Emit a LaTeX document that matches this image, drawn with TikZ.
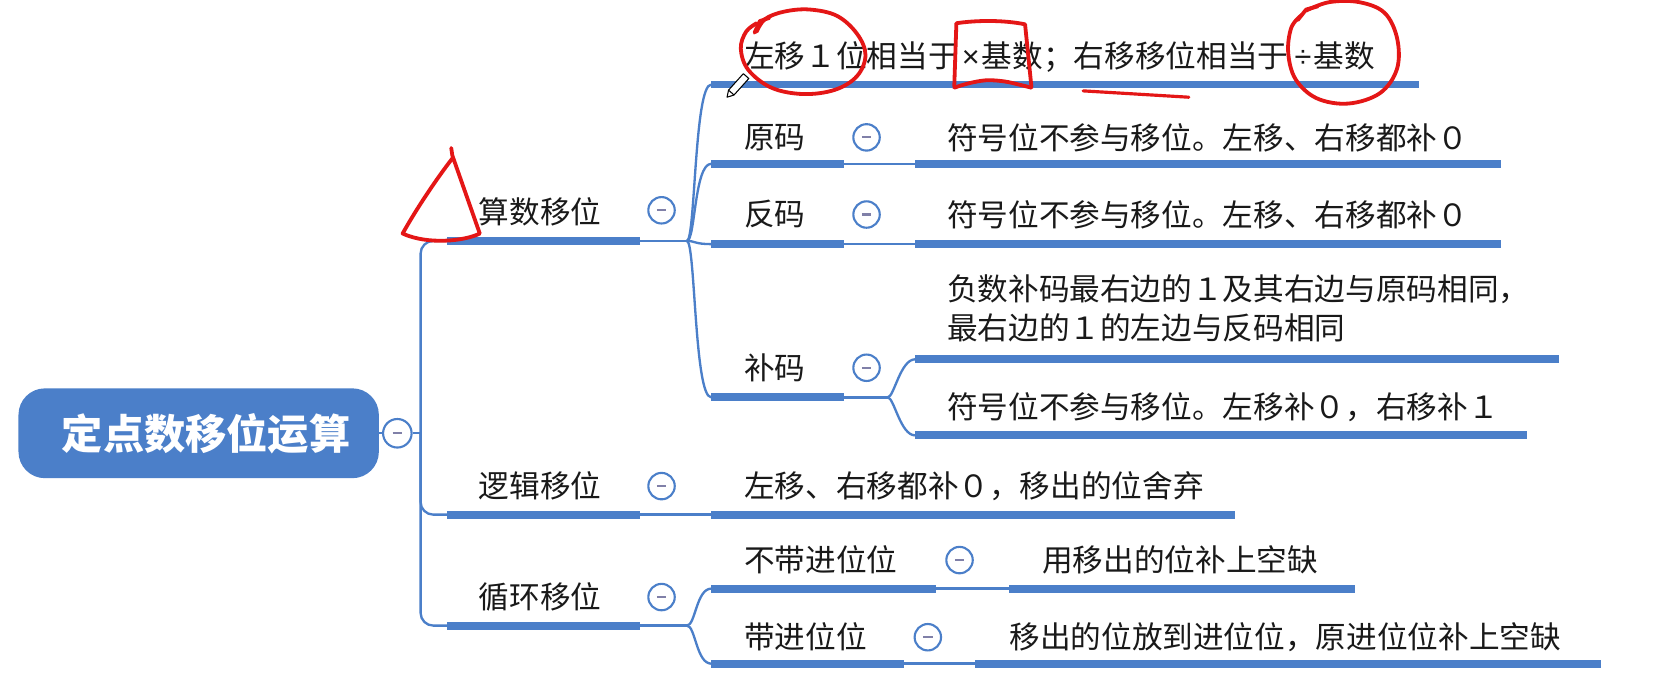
\documentclass[tikz,border=0pt]{standalone}
\usepackage{fontspec}
\newfontfamily\cjk{Noto Sans CJK SC}
\newfontfamily\lat{Liberation Sans}
\usetikzlibrary{calc}
\definecolor{xblue}{RGB}{75,127,201}
\definecolor{xred}{RGB}{228,22,22}
\definecolor{minusc}{RGB}{128,128,168}
\definecolor{txt}{RGB}{25,25,25}
\begin{document}
\begin{tikzpicture}[x=1pt,y=-1pt,
  bar/.style={fill=xblue, draw=none, inner sep=0, minimum height=7pt, anchor=west, minimum width=#1},
  conn/.style={draw=xblue, line width=2.2pt},
  tog/.style={circle, draw=xblue, line width=2pt, fill=white, minimum size=25pt, inner sep=0,
    path picture={\draw[minusc, line width=2pt] ([xshift=-4.5pt]path picture bounding box.center) -- ([xshift=4.5pt]path picture bounding box.center);}},
  lbl/.style={anchor=west, inner sep=0, text=txt, font=\cjk\fontsize{29}{37}\selectfont},
  rootbox/.style={fill=xblue, draw=none, rounded corners=25pt, minimum width=341pt, minimum height=85pt, inner sep=0, text=white, font=\cjk\bfseries\fontsize{39}{47}\selectfont},
  ink/.style={draw=xred, line width=3.6pt, line cap=round, line join=round}
]
\fill[white] (0,0) rectangle (1568,660);
\useasboundingbox (0,0) rectangle (1568,660);

\coordinate (trunk) at (398,410);
\coordinate (jS) at (650,228);
\coordinate (jB) at (840,376);
\coordinate (jX) at (650,592);

% root
\node[rootbox] (root) at (188,410) {\hspace*{14pt}定点数移位运算};
\node[tog, minimum size=27pt] (cR) at (376,410) {};

% level 1 bars
\node[bar=182pt] (bS) at (423,228) {};
\node[bar=182pt] (bL) at (423,487) {};
\node[bar=182pt] (bX) at (423,592) {};

% level 2 bars
\node[bar=669pt] (bT) at (673,80) {};
\node[bar=125pt] (bY1) at (673,155) {};
\node[bar=554pt] (bY2) at (866,155) {};
\node[bar=125pt] (bF1) at (673,231) {};
\node[bar=554pt] (bF2) at (866,231) {};
\node[bar=125pt] (bB1) at (673,376) {};
\node[bar=609pt] (bB2) at (866,340) {};
\node[bar=579pt] (bB3) at (866,412) {};
\node[bar=495pt] (bL2) at (673,487) {};
\node[bar=212pt] (bN1) at (673,557) {};
\node[bar=327pt] (bN2) at (955,557) {};
\node[bar=182pt] (bD1) at (673,628) {};
\node[bar=592pt] (bD2) at (923,628) {};

% connectors
\draw[conn] (root.east) -- (cR.west);
\draw[conn] (cR.east) -- (trunk);
\draw[conn, rounded corners=12pt] (bS.west) -| (trunk) |- (bX.west);
\draw[conn, rounded corners=12pt] (trunk) |- (bL.west);

\draw[conn] (bS.east) -- (jS);
\draw[conn] (jS) .. controls +(8,0) and +(-16,0) .. (bT.west);
\draw[conn] (jS) .. controls +(8,0) and +(-16,0) .. (bY1.west);
\draw[conn] (jS) .. controls +(8,0) and +(-16,0) .. (bF1.west);
\draw[conn] (jS) .. controls +(8,0) and +(-16,0) .. (bB1.west);

\draw[conn] (bY1.east) -- (bY2.west);
\draw[conn] (bF1.east) -- (bF2.west);
\draw[conn] (bB1.east) -- (jB);
\draw[conn] (jB) .. controls +(6,0) and +(-14,0) .. (bB2.west);
\draw[conn] (jB) .. controls +(6,0) and +(-14,0) .. (bB3.west);

\draw[conn] (bL.east) -- (bL2.west);

\draw[conn] (bX.east) -- (jX);
\draw[conn] (jX) .. controls +(8,0) and +(-14,0) .. (bN1.west);
\draw[conn] (jX) .. controls +(8,0) and +(-14,0) .. (bD1.west);
\draw[conn] (bN1.east) -- (bN2.west);
\draw[conn] (bD1.east) -- (bD2.west);

% redraw bars on top of connectors
\foreach \b in {bS,bL,bX,bT,bY1,bY2,bF1,bF2,bB1,bB2,bB3,bL2,bN1,bN2,bD1,bD2}
  \fill[xblue] (\b.north west) rectangle (\b.south east);

% toggles
\node[tog] (cS) at (626,199) {};
\node[tog] (cL) at (626,460) {};
\node[tog] (cX) at (626,565) {};
\node[tog] (cY) at (820,130) {};
\node[tog] (cF) at (820,203) {};
\node[tog] (cB) at (820,348) {};
\node[tog] (cN) at (908,530) {};
\node[tog] (cD) at (878,603) {};

% texts
\node[lbl] (tT) at (704,54) {左移１位相当于\hspace{3pt}{\lat ×}\hspace{2pt}基数；右移移位相当于\hspace{6pt}{\lat ÷}\hspace{2pt}基数};
\node[lbl] (tS) at (453,200) {算数移位};
\node[lbl] (tL) at (453,460) {逻辑移位};
\node[lbl] (tX) at (453,565) {循环移位};
\node[lbl] (tY) at (704,130) {原码};
\node[lbl] (tY2) at (896,130) {符号位不参与移位。左移、右移都补０};
\node[lbl] (tF) at (704,203) {反码};
\node[lbl] (tF2) at (896,203) {符号位不参与移位。左移、右移都补０};
\node[lbl] (tB) at (704,348) {补码};
\node[lbl, align=left] (tB2) at (896,292) {负数补码最右边的１及其右边与原码相同，\\最右边的１的左边与反码相同};
\node[lbl] (tB3) at (896,385) {符号位不参与移位。左移补０，右移补１};
\node[lbl] (tL2) at (704,460) {左移、右移都补０，移出的位舍弃};
\node[lbl] (tN) at (704,530) {不带进位位};
\node[lbl] (tN2) at (986,530) {用移出的位补上空缺};
\node[lbl] (tD) at (704,603) {带进位位};
\node[lbl] (tD2) at (955,603) {移出的位放到进位位，原进位位补上空缺};

% ---------- red hand annotations ----------
\draw[ink] plot[smooth, tension=0.6] coordinates {(716,30) (724,18) (742,11) (766,9) (792,15) (811,32) (819,52) (811,72) (790,85) (760,89) (730,83) (708,66) (701,46) (706,30) (716,22)};
\draw[ink] (714,31) -- (719,20) -- (728,17);
\draw[ink] (903,82) -- (905,22) .. controls (925,19) and (950,19) .. (970,23) -- (976,82);
\draw[ink] plot[smooth, tension=0.6] coordinates {(903,83) (916,79) (933,76) (950,77) (964,80) (976,83)};
\draw[ink, line width=3pt] plot[smooth] coordinates {(1025,86) (1075,89) (1125,92)};
\draw[ink] plot[smooth, tension=0.6] coordinates {(1236,10) (1258,2) (1286,2) (1310,12) (1322,36) (1322,65) (1306,88) (1276,98) (1246,93) (1226,75) (1219,50) (1222,26) (1232,14)};
\draw[ink] (1228,19) -- (1236,9) -- (1247,6);
\draw[ink] (427,140) -- (428,147) -- (454,221) .. controls (440,228) and (405,232) .. (381,221) .. controls (395,196) and (414,168) .. (428,150);

% pencil cursor
\draw[black, line width=1pt, fill=white, line join=round] (688,92) -- (694.6,89.9) -- (708.6,74.3) -- (703.4,69.7) -- (689.4,85.3) -- cycle;
\draw[black, line width=1pt] (694.6,89.9) -- (689.4,85.3);
\end{tikzpicture}
\end{document}
